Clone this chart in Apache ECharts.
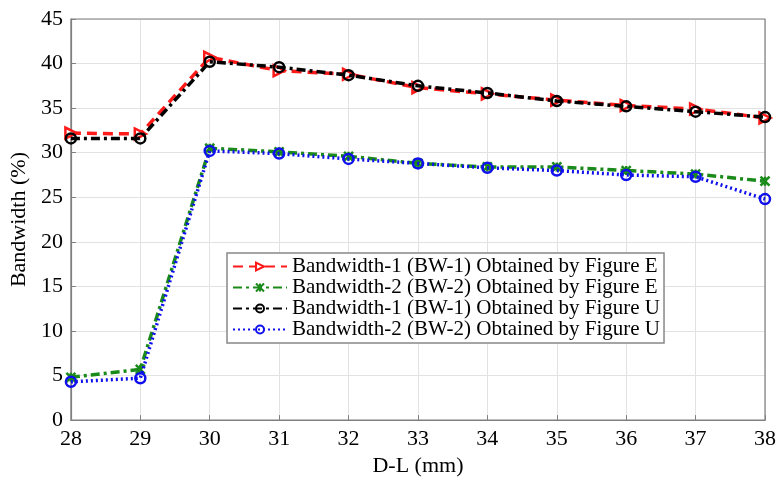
<!DOCTYPE html>
<html><head><meta charset="utf-8">
<script src="https://cdn.jsdelivr.net/npm/echarts@6/dist/echarts.min.js"></script>
<style>html,body{margin:0;padding:0;background:#fff}#c{width:780px;height:482px}</style>
</head><body><div id="c"></div>
<script>
const categories = [28, 29, 30, 31, 32, 33, 34, 35, 36, 37, 38];
const bw1E = [32.2, 32.1, 40.7, 39.2, 38.8, 37.3, 36.6, 35.9, 35.3, 34.9, 33.9];
const bw2E = [4.8, 5.7, 30.5, 30.1, 29.6, 28.8, 28.4, 28.4, 28.0, 27.6, 26.8];
const bw1U = [31.6, 31.6, 40.2, 39.6, 38.7, 37.5, 36.7, 35.8, 35.2, 34.6, 34.0];
const bw2U = [4.3, 4.7, 30.2, 29.9, 29.3, 28.8, 28.3, 28.0, 27.5, 27.3, 24.8];
const names = [
  'Bandwidth-1 (BW-1) Obtained by Figure E',
  'Bandwidth-2 (BW-2) Obtained by Figure E',
  'Bandwidth-1 (BW-1) Obtained by Figure U',
  'Bandwidth-2 (BW-2) Obtained by Figure U'
];
const font = 'Liberation Serif, Times New Roman, serif';
const pair = arr => arr.map((v, i) => [categories[i], v]);
const chart = echarts.init(document.getElementById('c'));
chart.setOption({
  animation: false,
  grid: {left: 70, right: 15, top: 19, bottom: 57},
  xAxis: {
    type: 'value', min: 28, max: 38, interval: 1,
    name: 'D-L (mm)', nameLocation: 'middle', nameGap: 31,
    nameTextStyle: {fontFamily: font, fontSize: 22, color: '#000'},
    axisLine: {show: true, lineStyle: {color: '#808080', width: 1.2}},
    axisTick: {show: true, inside: true, length: 5, lineStyle: {color: '#808080'}},
    axisLabel: {fontFamily: font, fontSize: 22, color: '#000', margin: 8},
    splitLine: {show: true, lineStyle: {color: '#e2e2e2', width: 1}}
  },
  yAxis: {
    type: 'value', min: 0, max: 45, interval: 5,
    name: 'Bandwidth (%)', nameLocation: 'middle', nameGap: 40,
    nameTextStyle: {fontFamily: font, fontSize: 22, color: '#000'},
    axisLine: {show: true, lineStyle: {color: '#808080', width: 1.2}},
    axisTick: {show: true, inside: true, length: 5, lineStyle: {color: '#808080'}},
    axisLabel: {fontFamily: font, fontSize: 22, color: '#000', margin: 8},
    splitLine: {show: true, lineStyle: {color: '#e2e2e2', width: 1}}
  },
  legend: {
    orient: 'vertical', left: 227, top: 253,
    itemWidth: 54, itemHeight: 10, itemGap: 0,
    padding: [3, 4, 3, 5],
    backgroundColor: '#fff', borderColor: '#888', borderWidth: 1.5,
    textStyle: {fontFamily: font, fontSize: 21, color: '#000', lineHeight: 21},
    data: names
  },
  series: [
    {
      name: names[0], type: 'line', data: pair(bw1E), z: 2,
      symbol: 'triangle', symbolRotate: -90, symbolSize: 11,
      lineStyle: {color: '#ff1a1a', width: 3.5, type: [10, 6]},
      itemStyle: {color: '#fff', borderColor: '#ff1a1a', borderWidth: 2.5}
    },
    {
      name: names[1], type: 'line', data: pair(bw2E), z: 2,
      symbol: 'path://M0,0L10,10M10,0L0,10M5,0L5,10', symbolSize: 9,
      lineStyle: {color: '#1a8a1a', width: 3.5, type: [9, 4, 3, 4]},
      itemStyle: {color: '#1a8a1a', borderColor: '#1a8a1a', borderWidth: 2.5}
    },
    {
      name: names[2], type: 'line', data: pair(bw1U), z: 3,
      symbol: 'circle', symbolSize: 10,
      lineStyle: {color: '#000', width: 3.5, type: [9, 4, 3, 4]},
      itemStyle: {color: 'rgba(255,255,255,0)', borderColor: '#000', borderWidth: 2.5}
    },
    {
      name: names[3], type: 'line', data: pair(bw2U), z: 3,
      symbol: 'circle', symbolSize: 10,
      lineStyle: {color: '#1010ee', width: 3.5, type: [2, 3]},
      itemStyle: {color: 'rgba(255,255,255,0)', borderColor: '#1010ee', borderWidth: 2.5}
    }
  ]
});
const g = chart.getModel().getComponent('grid').coordinateSystem.getRect();
chart.setOption({graphic: [{
  type: 'rect', silent: true, z: 0,
  shape: {x: g.x, y: g.y, width: g.width, height: g.height},
  style: {fill: 'none', stroke: '#808080', lineWidth: 1.2}
}]});
</script></body></html>
